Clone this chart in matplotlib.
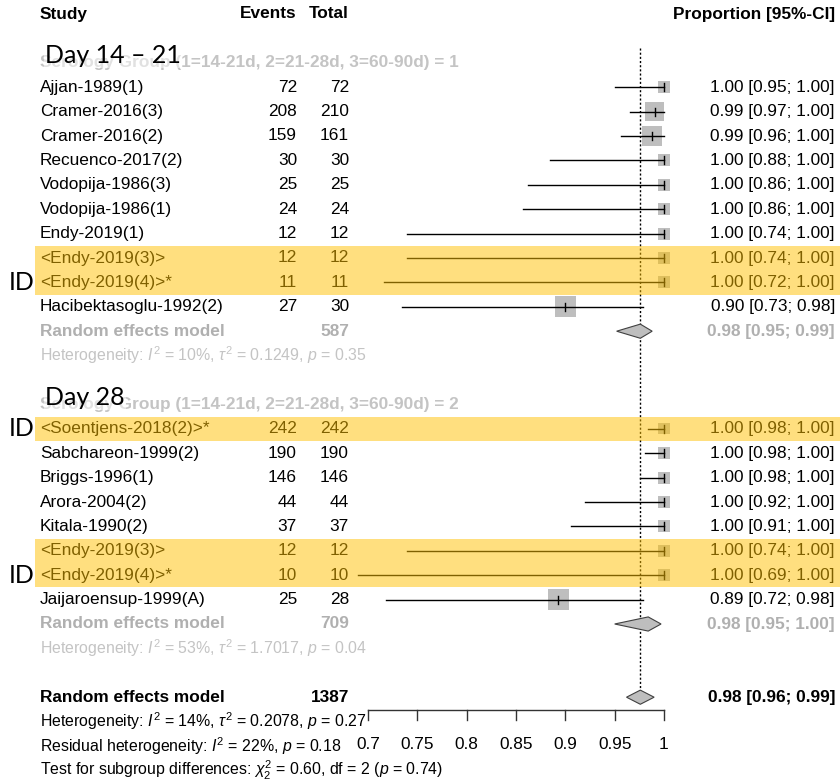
import numpy as np
import matplotlib
matplotlib.use("Agg")
import matplotlib.pyplot as plt
from matplotlib.patches import Rectangle, Polygon

plt.rcParams['font.family'] = ['Liberation Sans', 'DejaVu Sans']
plt.rcParams['mathtext.fontset'] = 'custom'
plt.rcParams['mathtext.rm'] = 'Liberation Sans'
plt.rcParams['mathtext.it'] = 'Liberation Sans:italic'

# ---- data ----
studies1 = ['Ajjan-1989(1)', 'Cramer-2016(3)', 'Cramer-2016(2)', 'Recuenco-2017(2)',
            'Vodopija-1986(3)', 'Vodopija-1986(1)', 'Endy-2019(1)', '<Endy-2019(3)>',
            '<Endy-2019(4)>*', 'Hacibektasoglu-1992(2)']
events1 = [72, 208, 159, 30, 25, 24, 12, 12, 11, 27]
total1 = [72, 210, 161, 30, 25, 24, 12, 12, 11, 30]
lo1 = [0.95, 0.966, 0.956, 0.884, 0.862, 0.857, 0.74, 0.74, 0.716, 0.734]
hi1 = [1.0, 1.0, 1.0, 1.0, 1.0, 1.0, 1.0, 1.0, 1.0, 0.979]
weight1 = [4, 10, 11, 4, 4, 4, 4, 4, 4, 12]
hl1 = [7, 8]

studies2 = ['<Soentjens-2018(2)>*', 'Sabchareon-1999(2)', 'Briggs-1996(1)', 'Arora-2004(2)',
            'Kitala-1990(2)', '<Endy-2019(3)>', '<Endy-2019(4)>*', 'Jaijaroensup-1999(A)']
events2 = [242, 190, 146, 44, 37, 12, 10, 25]
total2 = [242, 190, 146, 44, 37, 12, 10, 28]
lo2 = [0.984, 0.981, 0.976, 0.92, 0.906, 0.74, 0.69, 0.718]
hi2 = [1.0, 1.0, 1.0, 1.0, 1.0, 1.0, 1.0, 0.979]
weight2 = [3.5, 4, 4, 4, 4, 4, 4, 12]
hl2 = [0, 5, 6]

sub_n = [587, 709]
sub_est = [0.976, 0.984]
sub_lo = [0.952, 0.95]
sub_hi = [0.988, 0.997]
sub_het = [r"Heterogeneity: $I^2$ = 10%, $\tau^2$ = 0.1249, $p$ = 0.35",
           r"Heterogeneity: $I^2$ = 53%, $\tau^2$ = 1.7017, $p$ = 0.04"]
sub_head = ["Serology Group (1=14-21d, 2=21-28d, 3=60-90d) = 1",
            "Serology Group (1=14-21d, 2=21-28d, 3=60-90d) = 2"]
day_labels = ["Day 14 \u2013 21", "Day 28"]

all_n = 1387
all_est, all_lo, all_hi = 0.976, 0.962, 0.99
overall_text = [r"Heterogeneity: $I^2$ = 14%, $\tau^2$ = 0.2078, $p$ = 0.27",
                r"Residual heterogeneity: $I^2$ = 22%, $p$ = 0.18",
                r"Test for subgroup differences: $\chi^2_2$ = 0.60, df = 2 ($p$ = 0.74)"]
xticks = [0.7, 0.75, 0.8, 0.85, 0.9, 0.95, 1.0]

# ---- layout ----
W, H = 840, 784
PXU = 296 / 0.3          # pixels per proportion unit
ROW = 24.4               # pixels per row
def px2x(px):
    return 0.7 + (px - 368) / PXU

fig = plt.figure(figsize=(W / 100, H / 100), dpi=100)
ax = fig.add_axes([0, 0, 1, 1])
ax.set_xlim(px2x(0), px2x(W))
ax.set_ylim((H - 14) / ROW, -14 / ROW)
ax.axis('off')

FS = 12.4
FS2 = 11.4
GREY = '#b0b0b0'
SQ = '#bebebe'
x_name, x_ev, x_tot, x_ci = px2x(40), px2x(297), px2x(349), px2x(835)

def ci_str(e, l, h):
    return "%.2f [%.2f; %.2f]" % (e, l, h)

# header
ax.text(x_name, 0, "Study", fontsize=FS, fontweight='bold', va='center')
ax.text(x_ev, 0, "Events", fontsize=FS, fontweight='bold', va='center', ha='right')
ax.text(x_tot, 0, "Total", fontsize=FS, fontweight='bold', va='center', ha='right')
ax.text(x_ci, 0, "Proportion [95%-CI]", fontsize=FS, fontweight='bold', va='center', ha='right')

def study_rows(start, studies, events, total, lo, hi, weight, hl):
    for i, name in enumerate(studies):
        r = start + i
        est = events[i] / total[i]
        ax.text(x_name, r, name, fontsize=FS, va='center')
        ax.text(x_ev, r, str(events[i]), fontsize=FS, va='center', ha='right')
        ax.text(x_tot, r, str(total[i]), fontsize=FS, va='center', ha='right')
        ax.text(x_ci, r, ci_str(est, lo[i], hi[i]), fontsize=FS, va='center', ha='right')
        side = 6 * np.sqrt(weight[i])
        ax.add_patch(Rectangle((est - side / 2 / PXU, r - side / 2 / ROW), side / PXU, side / ROW,
                               facecolor=SQ, edgecolor='none', zorder=2))
        ax.plot([lo[i], hi[i]], [r, r], color='black', lw=1.0, zorder=3)
        ax.plot([est, est], [r - 0.16, r + 0.16], color='black', lw=1.0, zorder=3)
    for i in hl:
        ax.add_patch(Rectangle((px2x(35), start + i - 0.5), px2x(W) - px2x(35), 1,
                               facecolor='#ffc000', alpha=0.5, edgecolor='none', zorder=10))

def diamond(r, e, l, h):
    ax.add_patch(Polygon([(l, r), (e, r - 0.29), (h, r), (e, r + 0.29)], closed=True,
                         facecolor=SQ, edgecolor='#404040', lw=0.8, zorder=4))

groups = [(2, studies1, events1, total1, lo1, hi1, weight1, hl1),
          (16, studies2, events2, total2, lo2, hi2, weight2, hl2)]
for g, (hr, st, ev, tt, lo, hi, wt, hl) in enumerate(groups):
    ax.text(x_name, hr, sub_head[g], fontsize=FS, fontweight='bold', color='#c4c4c4', va='center')
    ax.text(px2x(45), hr - 0.3, day_labels[g], fontsize=18, family=['Lato', 'DejaVu Sans'],
            va='center', ha='left', zorder=6,
            bbox=dict(facecolor='white', alpha=0.5, edgecolor='none', pad=1))
    study_rows(hr + 1, st, ev, tt, lo, hi, wt, hl)
    rr = hr + 1 + len(st)
    ax.text(x_name, rr, "Random effects model", fontsize=FS, fontweight='bold', color=GREY, va='center')
    ax.text(x_tot, rr, str(sub_n[g]), fontsize=FS, fontweight='bold', color=GREY, va='center', ha='right')
    ax.text(x_ci, rr, ci_str(sub_est[g], sub_lo[g], sub_hi[g]), fontsize=FS, fontweight='bold',
            color=GREY, va='center', ha='right')
    diamond(rr, sub_est[g], sub_lo[g], sub_hi[g])
    ax.text(x_name, rr + 1, sub_het[g], fontsize=FS2, color='#c4c4c4', va='center')

# ID labels
for r in [11, 17, 23]:
    ax.text(px2x(9), r, "ID", fontsize=18, family=['Lato', 'DejaVu Sans'], va='center', ha='left')

# overall
ro = 28
ax.text(x_name, ro, "Random effects model", fontsize=FS, fontweight='bold', va='center')
ax.text(x_tot, ro, str(all_n), fontsize=FS, fontweight='bold', va='center', ha='right')
ax.text(x_ci, ro, ci_str(all_est, all_lo, all_hi), fontsize=FS, fontweight='bold', va='center', ha='right')
diamond(ro, all_est, all_lo, all_hi)
for i, t in enumerate(overall_text):
    ax.text(x_name, ro + 1 + i, t, fontsize=FS2, va='center', zorder=5)

# reference line
ax.plot([all_est, all_est], [(48 - 14) / ROW, ro - 0.29], color='black', lw=1.0,
        linestyle=(0, (1.5, 1.5)), zorder=1)

# x axis
ya = (710 - 14) / ROW
ax.plot([xticks[0], xticks[-1]], [ya, ya], color='#333333', lw=1.0)
for t in xticks:
    ax.plot([t, t], [ya, ya + 0.42], color='#333333', lw=1.0)
    ax.text(t, (744 - 14) / ROW, "%g" % t, fontsize=FS, va='center', ha='center')

fig.savefig("out.png", dpi=100)
